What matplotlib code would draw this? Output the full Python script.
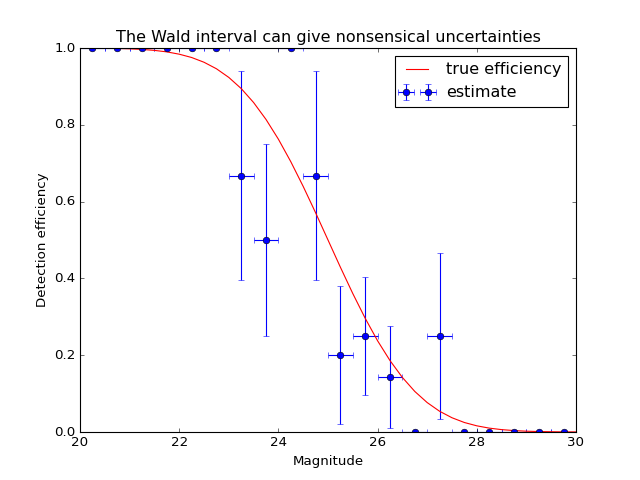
import matplotlib
matplotlib.use("Agg")
import matplotlib.pyplot as plt

plt.style.use("classic")

# estimated efficiency per magnitude bin (Wald interval)
mag = [20.25, 20.75, 21.25, 21.75, 22.25, 22.75, 23.25, 23.75, 24.25, 24.75,
       25.25, 25.75, 26.25, 26.75, 27.25, 27.75, 28.25, 28.75, 29.25, 29.75]
eff = [1.0, 1.0, 1.0, 1.0, 1.0, 1.0, 0.667, 0.5, 1.0, 0.667,
       0.2, 0.25, 0.143, 0.0, 0.25, 0.0, 0.0, 0.0, 0.0, 0.0]
eff_err = [0.0, 0.0, 0.0, 0.0, 0.0, 0.0, 0.272, 0.25, 0.0, 0.272,
           0.179, 0.153, 0.132, 0.0, 0.217, 0.0, 0.0, 0.0, 0.0, 0.0]
mag_err = [0.25] * len(mag)

# true efficiency curve
true_x = [20.0, 20.25, 20.5, 20.75, 21.0, 21.25, 21.5, 21.75, 22.0, 22.25,
          22.5, 22.75, 23.0, 23.25, 23.5, 23.75, 24.0, 24.25, 24.5, 24.75,
          25.0, 25.25, 25.5, 25.75, 26.0, 26.25, 26.5, 26.75, 27.0, 27.25,
          27.5, 27.75, 28.0, 28.25, 28.5, 28.75, 29.0, 29.25, 29.5, 29.75, 30.0]
true_y = [0.9998, 0.9997, 0.9993, 0.9988, 0.9979, 0.9963, 0.9938, 0.9899, 0.9839, 0.9753,
          0.9629, 0.9460, 0.9234, 0.8944, 0.8580, 0.8140, 0.7625, 0.7039, 0.6395, 0.5709,
          0.5, 0.4291, 0.3605, 0.2961, 0.2375, 0.1860, 0.1420, 0.1056, 0.0766, 0.0540,
          0.0371, 0.0247, 0.0161, 0.0101, 0.0062, 0.0037, 0.0021, 0.0012, 0.0007, 0.0003, 0.0002]

# old-style 8x6 inch figure at 80 dpi
fig, ax = plt.subplots(figsize=(8, 6), dpi=80)
ax.errorbar(mag, eff, xerr=mag_err, yerr=eff_err, fmt="o", color="b",
            label="estimate")
ax.plot(true_x, true_y, "r-", label="true efficiency")
ax.set_xlim(20, 30)
ax.set_ylim(0, 1)
ax.set_xlabel("Magnitude")
ax.set_ylabel("Detection efficiency")
ax.set_title("The Wald interval can give nonsensical uncertainties")
ax.legend(loc="upper right", numpoints=2)
fig.savefig("out.png", dpi=80)
